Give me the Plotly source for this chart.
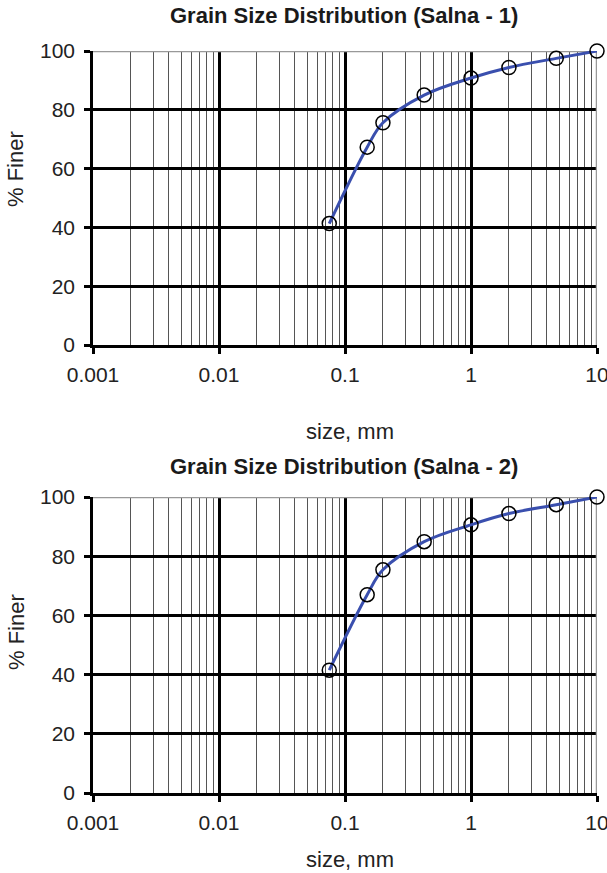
import plotly.graph_objects as go

# ---- data ----
size_mm = [0.075, 0.15, 0.2, 0.425, 1.0, 2.0, 4.75, 10.0]
finer_salna1 = [41.3, 67.3, 75.6, 85.0, 90.8, 94.4, 97.5, 100.0]
finer_salna2 = [41.5, 67.0, 75.4, 84.9, 90.6, 94.4, 97.4, 100.0]
chart_titles = ["Grain Size Distribution (Salna - 1)", "Grain Size Distribution (Salna - 2)"]
x_tickvals = [0.001, 0.01, 0.1, 1, 10]
x_ticktext = ["0.001", "0.01", "0.1", "1", "10"]
y_tickvals = [0, 20, 40, 60, 80, 100]
minor_vals = [k * 10.0 ** e for e in range(-3, 1) for k in range(2, 10)]

W, H = 607, 873
FONT = "Liberation Sans, Arial, sans-serif"
LINE_BLUE = "#3a4fae"

x_dom = [93 / W, 597 / W]
y_doms = [[1 - 345 / H, 1 - 51 / H], [1 - 793 / H, 1 - 497 / H]]

fig = go.Figure()
series = [finer_salna1, finer_salna2]
for i, ys in enumerate(series):
    fig.add_trace(go.Scatter(
        x=size_mm, y=ys, mode="lines+markers",
        xaxis="x" if i == 0 else "x2", yaxis="y" if i == 0 else "y2",
        line=dict(color=LINE_BLUE, width=3, shape="spline", smoothing=1.0),
        marker=dict(symbol="circle-open", size=14, color="black", line=dict(width=1.5)),
        cliponaxis=False, showlegend=False,
    ))

def xaxis_def(anchor):
    return dict(
        type="log", range=[-3, 1], domain=x_dom, anchor=anchor, automargin=False,
        tickmode="array", tickvals=x_tickvals, ticktext=x_ticktext,
        showgrid=True, gridcolor="black", gridwidth=2.5,
        showline=True, linecolor="black", linewidth=2.5,
        ticks="outside", ticklen=6, tickwidth=2.5, tickcolor="black",
        minor=dict(tickmode="array", tickvals=minor_vals, showgrid=True,
                   gridcolor="#555555", gridwidth=1, ticks=""),
        zeroline=False, tickfont=dict(family=FONT, size=21, color="#222"),
        ticklabelstandoff=3, ticklabeloverflow="allow",
    )

def yaxis_def(anchor, dom):
    return dict(
        range=[0, 100], domain=dom, anchor=anchor, automargin=False,
        tickmode="array", tickvals=y_tickvals,
        showgrid=True, gridcolor="black", gridwidth=2.5,
        showline=True, linecolor="black", linewidth=2.5,
        ticks="outside", ticklen=6, tickwidth=2.5, tickcolor="black",
        zeroline=False, tickfont=dict(family=FONT, size=21, color="#222"),
        ticklabelstandoff=5, ticklabeloverflow="allow",
    )

annotations = []
shapes = []
title_y = [15, 466]
ylab_y = [169, 632]
xlab_y = [431, 859]
for i in range(2):
    xa = "x" if i == 0 else "x2"
    ya = "y" if i == 0 else "y2"
    annotations.append(dict(text="<b>" + chart_titles[i] + "</b>", x=344 / W, y=1 - title_y[i] / H,
                            xref="paper", yref="paper", showarrow=False, xanchor="center", yanchor="middle",
                            font=dict(family=FONT, size=22, color="#1a1a1a")))
    annotations.append(dict(text="% Finer", x=16 / W, y=1 - ylab_y[i] / H, textangle=-90,
                            xref="paper", yref="paper", showarrow=False, xanchor="center", yanchor="middle",
                            font=dict(family=FONT, size=22, color="#222")))
    annotations.append(dict(text="size, mm", x=350 / W, y=1 - xlab_y[i] / H,
                            xref="paper", yref="paper", showarrow=False, xanchor="center", yanchor="middle",
                            font=dict(family=FONT, size=22, color="#222")))
    # gray top and right frame edges (plot-area border, drawn between grid and traces)
    shapes.append(dict(type="line", xref=xa, yref=ya,
                       x0=x_tickvals[0], x1=x_tickvals[-1], y0=y_tickvals[-1], y1=y_tickvals[-1],
                       line=dict(color="#999999", width=2.5), layer="between"))
    shapes.append(dict(type="line", xref=xa, yref=ya,
                       x0=x_tickvals[-1], x1=x_tickvals[-1], y0=y_tickvals[0], y1=y_tickvals[-1],
                       line=dict(color="#999999", width=2.5), layer="between"))

fig.update_layout(
    width=W, height=H, margin=dict(l=0, r=0, t=0, b=0),
    paper_bgcolor="white", plot_bgcolor="white",
    xaxis=xaxis_def("y"), yaxis=yaxis_def("x", y_doms[0]),
    xaxis2=xaxis_def("y2"), yaxis2=yaxis_def("x2", y_doms[1]),
    annotations=annotations, shapes=shapes,
    font=dict(family=FONT),
)

fig.write_html("out.html")
